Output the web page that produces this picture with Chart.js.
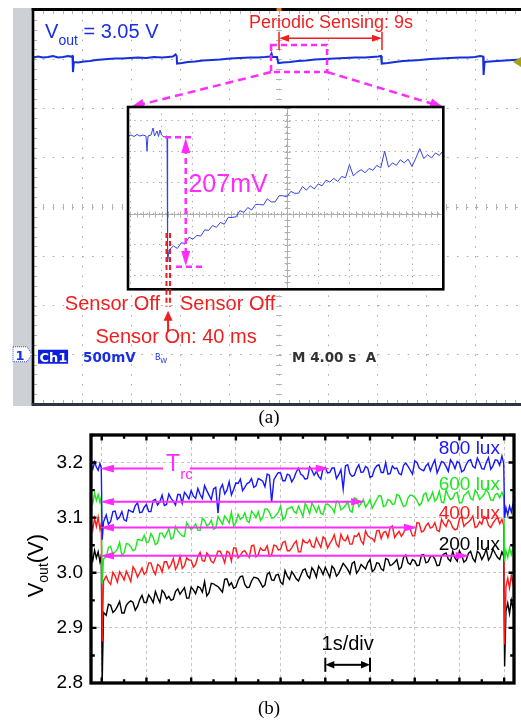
<!DOCTYPE html>
<html>
<head>
<meta charset="utf-8">
<script src="https://cdn.jsdelivr.net/npm/chart.js@4.4.0/dist/chart.umd.min.js"></script>
<style>
  body { margin: 0; background: #fff; width: 521px; height: 721px; overflow: hidden; position: relative; }
  canvas { position: absolute; }
  #scope { left: 0; top: 0; }
  #inset { left: 125px; top: 104px; }
  #panelB { left: 0; top: 405px; }
</style>
</head>
<body>
<canvas id="scope" width="521" height="410"></canvas>
<canvas id="inset" width="322" height="189"></canvas>
<canvas id="panelB" width="521" height="316"></canvas>
<script>
// ---- (a) scope trace: time in s (4 s/div), Vout in V (500 mV/div)
const scopeT = [0, 0.41, 0.81, 1.22, 1.63, 2.03, 2.44, 2.85, 3.09, 3.21, 3.25, 3.32, 3.66, 4.15, 4.63, 5.12, 5.61, 6.10, 6.67, 7.24,
  7.89, 8.54, 9.19, 9.84, 10.49, 10.98, 11.38, 11.59, 11.68, 11.71, 12.11, 12.60, 13.17, 13.82, 14.55, 15.20, 16.02, 16.83, 17.64, 18.29,
  18.86, 19.27, 19.39, 19.47, 19.84, 19.94, 20.33, 20.89, 21.54, 22.19, 22.93, 23.74, 24.55, 25.37, 26.18, 26.99, 27.56, 28.05, 28.29, 28.35,
  28.86, 29.43, 30.08, 30.81, 31.46, 32.28, 33.09, 33.90, 34.72, 35.37, 35.93, 36.34, 36.59, 36.63, 36.71, 37.15, 37.72, 38.37, 39.02, 39.67];
const scopeV = [3.017, 3.027, 3.017, 3.022, 3.033, 3.017, 3.022, 3.033, 3.027, 3.033, 2.870, 2.972, 2.967, 2.977, 2.982, 2.992, 2.997, 3.002, 3.007, 3.007,
  3.012, 3.017, 3.012, 3.022, 3.017, 3.022, 3.027, 3.048, 3.033, 2.956, 2.961, 2.972, 2.977, 2.987, 2.992, 2.997, 3.007, 3.012, 3.017, 3.017,
  3.022, 3.027, 3.058, 3.022, 3.022, 2.961, 2.967, 2.972, 2.982, 2.987, 2.997, 3.002, 3.007, 3.012, 3.017, 3.017, 3.022, 3.027, 3.033, 2.956,
  2.961, 2.972, 2.982, 2.987, 2.992, 3.002, 3.007, 3.012, 3.017, 3.017, 3.022, 3.033, 3.027, 2.840, 2.972, 2.977, 2.982, 2.987, 2.992, 2.997];
const scopeXGrid = [0, 4, 8, 12, 16, 20, 24, 28, 32, 36];
const scopeYGrid = [-0.5, 0, 0.5, 1.0, 1.5, 2.0, 2.5, 3.0, 3.5];

// ---- (a) inset: time in s (400 ms/div), Vout in V (50 mV/div)
const insetT = [-0.024, 0.008, 0.046, 0.084, 0.123, 0.161, 0.199, 0.212, 0.225, 0.263, 0.289, 0.308, 0.340, 0.359, 0.378, 0.397, 0.429, 0.468, 0.475, 0.493,
  0.55, 0.60, 0.65, 0.70, 0.75, 0.80, 0.85, 0.90, 0.95, 1.00, 1.05, 1.10, 1.15, 1.20, 1.25, 1.30, 1.35, 1.40, 1.45, 1.50,
  1.55, 1.60, 1.65, 1.70, 1.75, 1.80, 1.85, 1.90, 1.95, 2.00, 2.05, 2.10, 2.15, 2.20, 2.25, 2.30, 2.35, 2.40, 2.45, 2.50,
  2.55, 2.60, 2.65, 2.70, 2.75, 2.80, 2.85, 2.90, 2.95, 3.00, 3.05, 3.10, 3.15, 3.20, 3.25, 3.30, 3.35, 3.40, 3.45, 3.50,
  3.55, 3.60, 3.65, 3.70, 3.75, 3.80, 3.85, 3.90, 3.95, 4.00];
const insetV = [3.0753, 3.0769, 3.0745, 3.0777, 3.0753, 3.0769, 3.0753, 3.0511, 3.0753, 3.0769, 3.0882, 3.0753, 3.0834, 3.0745, 3.0850, 3.0769, 3.0737, 3.0753, 2.8721, 2.8915,
  2.898, 2.894, 2.903, 2.902, 2.912, 2.909, 2.915, 2.914, 2.924, 2.923, 2.931, 2.928, 2.936, 2.933, 2.944, 2.944, 2.945, 2.955, 2.952, 2.960,
  2.956, 2.965, 2.965, 2.964, 2.974, 2.969, 2.969, 2.979, 2.979, 2.977, 2.986, 2.983, 2.983, 2.994, 2.988, 2.995, 2.990, 2.998, 2.995, 3.004,
  3.001, 3.007, 3.002, 3.010, 3.008, 3.029, 3.011, 3.017, 3.021, 3.016, 3.023, 3.020, 3.028, 3.024, 3.051, 3.025, 3.032, 3.028, 3.037, 3.032,
  3.038, 3.026, 3.040, 3.055, 3.039, 3.045, 3.040, 3.048, 3.044, 3.052];
const insetXGrid = [0, 0.4, 0.8, 1.2, 1.6, 2.0, 2.4, 2.8, 3.2, 3.6];
const insetYGrid = [2.85, 2.9, 2.95, 3.0, 3.05, 3.1];

// ---- (b) Vout recovery at four light levels (time in s, Vout in V)
const timeS = [-0.24, -0.2, -0.16, -0.12, -0.08, -0.04, -0.01, 0.01, 0.04,
  0.1, 0.15, 0.2, 0.25, 0.3, 0.35, 0.4, 0.45, 0.5, 0.55,
  0.6, 0.65, 0.7, 0.75, 0.8, 0.85, 0.9, 0.95, 1.0, 1.05,
  1.1, 1.15, 1.2, 1.25, 1.3, 1.35, 1.4, 1.45, 1.5, 1.55,
  1.6, 1.65, 1.7, 1.75, 1.8, 1.85, 1.9, 1.95, 2.0, 2.05,
  2.1, 2.15, 2.2, 2.25, 2.3, 2.35, 2.4, 2.45, 2.5, 2.55,
  2.6, 2.65, 2.7, 2.75, 2.8, 2.85, 2.9, 2.95, 3.0, 3.05,
  3.1, 3.15, 3.2, 3.25, 3.3, 3.35, 3.4, 3.45, 3.5, 3.55,
  3.6, 3.65, 3.7, 3.75, 3.8, 3.85, 3.9, 3.95, 4.0, 4.05,
  4.1, 4.15, 4.2, 4.25, 4.3, 4.35, 4.4, 4.45, 4.5, 4.55,
  4.6, 4.65, 4.7, 4.75, 4.8, 4.85, 4.9, 4.95, 5.0, 5.05,
  5.1, 5.15, 5.2, 5.25, 5.3, 5.35, 5.4, 5.45, 5.5, 5.55,
  5.6, 5.65, 5.7, 5.75, 5.8, 5.85, 5.9, 5.95, 6.0, 6.05,
  6.1, 6.15, 6.2, 6.25, 6.3, 6.35, 6.4, 6.45, 6.5, 6.55,
  6.6, 6.65, 6.7, 6.75, 6.8, 6.85, 6.9, 6.95, 7.0, 7.05,
  7.1, 7.15, 7.2, 7.25, 7.3, 7.35, 7.4, 7.45, 7.5, 7.55,
  7.6, 7.65, 7.7, 7.75, 7.8, 7.85, 7.9, 7.95, 8.0, 8.05,
  8.1, 8.15, 8.2, 8.25, 8.3, 8.35, 8.4, 8.45, 8.5, 8.55,
  8.6, 8.65, 8.7, 8.75, 8.8, 8.85, 8.9,
  8.95, 8.99, 9.01, 9.04, 9.08, 9.12, 9.16, 9.2, 9.22];
const lux800 = [3.196, 3.188, 3.201, 3.192, 3.186, 3.198, 3.190, 3.06, 3.092,
  3.105, 3.088, 3.093, 3.111, 3.112, 3.097, 3.101, 3.111, 3.096, 3.094,
  3.114, 3.112, 3.110, 3.122, 3.127, 3.109, 3.110, 3.119, 3.124, 3.111,
  3.111, 3.131, 3.133, 3.123, 3.129, 3.141, 3.122, 3.124, 3.143, 3.135,
  3.130, 3.123, 3.142, 3.142, 3.126, 3.146, 3.141, 3.134, 3.149, 3.139,
  3.135, 3.153, 3.142, 3.135, 3.158, 3.149, 3.141, 3.133, 3.152, 3.155,
  3.108, 3.152, 3.160, 3.143, 3.150, 3.165, 3.141, 3.151, 3.163, 3.162,
  3.170, 3.149, 3.155, 3.162, 3.164, 3.171, 3.155, 3.158, 3.171, 3.169,
  3.166, 3.156, 3.179, 3.177, 3.128, 3.169, 3.176, 3.182, 3.181, 3.167,
  3.167, 3.179, 3.177, 3.165, 3.172, 3.183, 3.190, 3.179, 3.176, 3.170,
  3.171, 3.192, 3.186, 3.177, 3.184, 3.175, 3.170, 3.190, 3.191, 3.181,
  3.182, 3.190, 3.190, 3.171, 3.178, 3.187, 3.152, 3.194, 3.196, 3.180,
  3.175, 3.177, 3.189, 3.196, 3.182, 3.183, 3.193, 3.190, 3.173, 3.175,
  3.188, 3.194, 3.196, 3.182, 3.182, 3.200, 3.179, 3.180, 3.194, 3.189,
  3.190, 3.180, 3.178, 3.195, 3.199, 3.193, 3.186, 3.179, 3.203, 3.200,
  3.190, 3.187, 3.185, 3.194, 3.198, 3.185, 3.196, 3.205, 3.181, 3.191,
  3.202, 3.200, 3.193, 3.184, 3.205, 3.199, 3.189, 3.202, 3.199, 3.183,
  3.186, 3.196, 3.203, 3.205, 3.193, 3.190, 3.208, 3.200, 3.189, 3.188,
  3.200, 3.209, 3.188, 3.194, 3.205, 3.204, 3.195,
  3.212, 3.198, 3.10, 3.118, 3.105, 3.121, 3.110, 3.126, 3.115];
const lux600 = [3.138, 3.126, 3.145, 3.131, 3.142, 3.128, 3.137, 2.98, 3.025,
  3.029, 3.046, 3.048, 3.033, 3.038, 3.043, 3.055, 3.031, 3.036, 3.053,
  3.052, 3.047, 3.040, 3.042, 3.060, 3.060, 3.058, 3.068, 3.055, 3.056,
  3.071, 3.064, 3.051, 3.054, 3.072, 3.072, 3.064, 3.071, 3.080, 3.061,
  3.064, 3.084, 3.076, 3.071, 3.067, 3.066, 3.091, 3.084, 3.078, 3.083,
  3.089, 3.077, 3.077, 3.099, 3.095, 3.085, 3.088, 3.095, 3.079, 3.081,
  3.102, 3.095, 3.088, 3.103, 3.098, 3.090, 3.110, 3.085, 3.091, 3.106,
  3.097, 3.100, 3.109, 3.094, 3.091, 3.112, 3.107, 3.100, 3.111, 3.095,
  3.100, 3.116, 3.116, 3.110, 3.099, 3.100, 3.105, 3.110, 3.121, 3.096,
  3.100, 3.116, 3.117, 3.120, 3.111, 3.108, 3.121, 3.112, 3.102, 3.126,
  3.118, 3.107, 3.127, 3.119, 3.110, 3.121, 3.108, 3.106, 3.123, 3.125,
  3.121, 3.117, 3.109, 3.130, 3.129, 3.114, 3.117, 3.122, 3.129, 3.113,
  3.110, 3.136, 3.134, 3.120, 3.126, 3.133, 3.119, 3.125, 3.133, 3.117,
  3.125, 3.133, 3.140, 3.139, 3.120, 3.122, 3.133, 3.131, 3.124, 3.125,
  3.142, 3.140, 3.130, 3.120, 3.122, 3.136, 3.141, 3.140, 3.137, 3.131,
  3.122, 3.126, 3.142, 3.145, 3.130, 3.136, 3.146, 3.130, 3.135, 3.148,
  3.128, 3.127, 3.150, 3.140, 3.133, 3.135, 3.144, 3.146, 3.127, 3.127,
  3.140, 3.144, 3.148, 3.135, 3.132, 3.150, 3.145, 3.133, 3.137, 3.142,
  3.151, 3.145, 3.132, 3.131, 3.142, 3.144, 3.136,
  3.146, 3.138, 3.02, 3.040, 3.028, 3.045, 3.033, 3.048, 3.037];
const lux400 = [3.092, 3.078, 3.099, 3.084, 3.101, 3.079, 3.090, 2.875, 2.985,
  2.994, 2.984, 2.979, 3.001, 2.994, 2.983, 3.002, 2.995, 2.987, 3.003,
  2.994, 2.984, 3.011, 3.004, 2.992, 3.000, 3.009, 2.997, 3.002, 3.018,
  3.018, 3.005, 2.997, 3.015, 3.012, 3.001, 3.020, 3.020, 3.008, 3.015,
  3.026, 3.006, 3.014, 3.030, 3.008, 3.013, 3.027, 3.023, 3.023, 3.010,
  3.015, 3.030, 3.037, 3.022, 3.021, 3.036, 3.031, 3.021, 3.018, 3.028,
  3.039, 3.039, 3.030, 3.018, 3.039, 3.037, 3.021, 3.045, 3.045, 3.027,
  3.032, 3.038, 3.040, 3.033, 3.028, 3.049, 3.050, 3.029, 3.033, 3.045,
  3.041, 3.041, 3.049, 3.030, 3.033, 3.050, 3.049, 3.041, 3.043, 3.055,
  3.057, 3.040, 3.040, 3.045, 3.053, 3.058, 3.038, 3.038, 3.060, 3.055,
  3.054, 3.060, 3.048, 3.046, 3.063, 3.054, 3.046, 3.065, 3.061, 3.045,
  3.053, 3.059, 3.069, 3.052, 3.047, 3.070, 3.060, 3.058, 3.067, 3.052,
  3.052, 3.067, 3.066, 3.072, 3.058, 3.052, 3.076, 3.067, 3.064, 3.062,
  3.057, 3.076, 3.077, 3.062, 3.073, 3.075, 3.064, 3.082, 3.085, 3.064,
  3.070, 3.075, 3.066, 3.072, 3.082, 3.084, 3.079, 3.067, 3.067, 3.091,
  3.090, 3.074, 3.076, 3.085, 3.090, 3.081, 3.083, 3.091, 3.077, 3.075,
  3.097, 3.089, 3.084, 3.096, 3.092, 3.082, 3.078, 3.080, 3.098, 3.102,
  3.084, 3.089, 3.092, 3.096, 3.103, 3.082, 3.084, 3.093, 3.088, 3.102,
  3.100, 3.086, 3.082, 3.090, 3.096, 3.101, 3.089,
  3.097, 3.086, 2.87, 2.975, 2.990, 2.972, 2.995, 2.980, 3.000];
const lux200 = [3.035, 3.022, 3.041, 3.027, 3.038, 3.020, 3.032, 2.80, 2.928,
  2.923, 2.943, 2.941, 2.928, 2.932, 2.939, 2.948, 2.927, 2.927, 2.941,
  2.946, 2.949, 2.946, 2.932, 2.939, 2.951, 2.959, 2.946, 2.946, 2.960,
  2.954, 2.946, 2.966, 2.955, 2.946, 2.968, 2.963, 2.953, 2.957, 2.950,
  2.952, 2.966, 2.971, 2.961, 2.967, 2.973, 2.954, 2.954, 2.974, 2.969,
  2.962, 2.975, 2.973, 2.965, 2.984, 2.958, 2.964, 2.981, 2.980, 2.977,
  2.975, 2.970, 2.965, 2.988, 2.989, 2.977, 2.982, 2.972, 2.974, 2.986,
  2.993, 2.994, 2.979, 2.973, 2.974, 2.985, 2.992, 2.991, 2.989, 2.982,
  2.974, 2.978, 2.997, 3.001, 2.987, 2.986, 2.996, 2.997, 2.983, 2.979,
  3.004, 2.994, 2.988, 3.002, 2.996, 2.989, 2.985, 2.995, 3.005, 3.007,
  2.995, 2.990, 3.009, 3.003, 2.992, 3.012, 3.006, 2.997, 3.010, 3.001,
  2.992, 3.012, 3.007, 2.994, 2.999, 3.008, 3.017, 3.012, 3.006, 2.998,
  3.017, 3.020, 2.999, 3.005, 3.015, 3.011, 3.007, 3.018, 3.024, 3.002,
  3.006, 3.018, 3.017, 3.007, 3.004, 3.026, 3.024, 3.013, 3.015, 3.019,
  3.024, 3.006, 3.010, 3.028, 3.032, 3.018, 3.015, 3.024, 3.022, 3.013,
  3.014, 3.032, 3.033, 3.018, 3.020, 3.029, 3.031, 3.025, 3.013, 3.014,
  3.030, 3.034, 3.036, 3.025, 3.021, 3.039, 3.027, 3.021, 3.040, 3.032,
  3.019, 3.023, 3.035, 3.039, 3.026, 3.020, 3.039, 3.035, 3.024, 3.032,
  3.043, 3.023, 3.030, 3.043, 3.035, 3.028, 3.024,
  3.038, 3.030, 2.83, 2.930, 2.945, 2.926, 2.950, 2.935, 2.955];
const luxLabels = ['800 lux', '600 lux', '400 lux', '200 lux'];
const luxColors = ['#1616ff', '#1ee61e', '#ff1a1a', '#000000'];
const luxLabelV = [3.215, 3.151, 3.098, 3.042];
const trcArrowV = [3.189, 3.129, 3.082, 3.031];
const trcArrowEnd = [5.10, 5.89, 7.07, 8.23];
const yTicksB = [2.8, 2.9, 3.0, 3.1, 3.2];
const xMajorB = [0, 1, 2, 3, 4, 5, 6, 7, 8, 9];

Chart.defaults.font.family = '"Liberation Sans", Arial, sans-serif';
const SANS = '"Liberation Sans", Arial, sans-serif';
const SCOPEFONT = '"DejaVu Sans", sans-serif';
const blue = '#1a2ee6', red = '#f01e1e', mag = '#ff2bff';

// ---------- drawing helpers
function P(chart, t, v) {
  return [chart.scales.x.getPixelForValue(t), chart.scales.y.getPixelForValue(v)];
}
function seg(ctx, a, b, color, w, dash) {
  ctx.save();
  ctx.strokeStyle = color; ctx.lineWidth = w; ctx.setLineDash(dash || []);
  ctx.beginPath(); ctx.moveTo(a[0], a[1]); ctx.lineTo(b[0], b[1]); ctx.stroke();
  ctx.restore();
}
function head(ctx, tip, from, len, hw, color) {
  const ang = Math.atan2(tip[1] - from[1], tip[0] - from[0]);
  const c = Math.cos(ang), s = Math.sin(ang);
  ctx.save(); ctx.fillStyle = color; ctx.beginPath();
  ctx.moveTo(tip[0], tip[1]);
  ctx.lineTo(tip[0] - len * c + hw * s, tip[1] - len * s - hw * c);
  ctx.lineTo(tip[0] - len * c - hw * s, tip[1] - len * s + hw * c);
  ctx.closePath(); ctx.fill(); ctx.restore();
}
function arrow(ctx, a, b, color, w, len, hw, both, dash) {
  const d = Math.hypot(b[0] - a[0], b[1] - a[1]);
  const ux = (b[0] - a[0]) / d, uy = (b[1] - a[1]) / d;
  const s = both ? [a[0] + ux * len * 0.8, a[1] + uy * len * 0.8] : a;
  const e = [b[0] - ux * len * 0.8, b[1] - uy * len * 0.8];
  seg(ctx, s, e, color, w, dash);
  head(ctx, b, a, len, hw, color);
  if (both) head(ctx, a, b, len, hw, color);
}
function txt(ctx, s, p, font, color, align) {
  ctx.save(); ctx.font = font; ctx.fillStyle = color; ctx.textAlign = align || 'left';
  ctx.fillText(s, p[0], p[1]); ctx.restore();
}
function subTxt(ctx, p, main, sub, rest, size, subSize, drop, color, family) {
  ctx.save(); ctx.fillStyle = color; ctx.textAlign = 'left';
  ctx.font = size + 'px ' + family; ctx.fillText(main, p[0], p[1]);
  let x = p[0] + ctx.measureText(main).width;
  ctx.font = subSize + 'px ' + family; ctx.fillText(sub, x, p[1] + drop);
  x += ctx.measureText(sub).width;
  ctx.font = size + 'px ' + family; ctx.fillText(rest, x, p[1]);
  ctx.restore();
}
function hiddenAxis(min, max, grid, color, dash, horizontal) {
  return {
    type: 'linear', min: min, max: max,
    afterFit: s => { if (horizontal) s.height = 0; else s.width = 0; },
    afterBuildTicks: s => { s.ticks = grid.map(v => ({ value: v })); },
    ticks: { display: false },
    grid: { color: color, drawTicks: false, lineWidth: 1 },
    border: { display: false, dash: dash }
  };
}

// ---------- (a) oscilloscope screen
const scopeDeco = {
  id: 'scopeDeco',
  beforeDraw(chart) {
    const { ctx, chartArea: a } = chart;
    ctx.save();
    ctx.fillStyle = '#cdd1d5';
    ctx.fillRect(a.left - 20, a.top - 2, 19, a.bottom - a.top + 4);
    ctx.restore();
  },
  beforeDatasetsDraw(chart) {
    const { ctx, chartArea: a, scales: { x, y } } = chart;
    const cx = x.getPixelForValue(20), cy = y.getPixelForValue(1.5);
    ctx.save(); ctx.strokeStyle = '#b4b4b4'; ctx.lineWidth = 1; ctx.beginPath();
    for (let v = -0.5; v <= 3.51; v += 0.1) {
      const py = Math.round(y.getPixelForValue(v)) + 0.5;
      ctx.moveTo(cx - 3, py); ctx.lineTo(cx + 3, py);
      ctx.moveTo(a.left, py); ctx.lineTo(a.left + 4, py);
    }
    for (let t = 0; t <= 40; t += 0.8) {
      const p = Math.round(x.getPixelForValue(t)) + 0.5;
      ctx.moveTo(p, cy - 3); ctx.lineTo(p, cy + 3);
      ctx.moveTo(p, a.top); ctx.lineTo(p, a.top + 4);
      ctx.moveTo(p, a.bottom); ctx.lineTo(p, a.bottom - 4);
    }
    ctx.stroke(); ctx.restore();
  },
  afterDatasetsDraw(chart) {
    const { ctx, chartArea: a } = chart;
    const Q = (t, v) => P(chart, t, v);
    // screen frame
    ctx.save();
    ctx.fillStyle = '#000';
    ctx.fillRect(a.left - 1.3, a.top - 2, 2.6, a.bottom - a.top + 3);
    ctx.fillRect(a.left - 1.3, a.top - 2, a.right - a.left + 2, 3);
    ctx.fillStyle = '#2b3642';
    ctx.fillRect(a.left - 1.3, a.bottom - 1, a.right - a.left + 2, 3);
    ctx.restore();

    subTxt(ctx, Q(0.98, 3.212), 'V', 'out', ' = 3.05 V', 20, 14, 7, blue, SANS);

    txt(ctx, 'Periodic Sensing: 9s', Q(24.23, 3.316), '18px ' + SANS, red, 'center');
    arrow(ctx, Q(20.0, 3.212), Q(28.37, 3.212), red, 1.5, 10, 3.5, true);
    seg(ctx, Q(20.0, 3.279), Q(20.0, 3.093), red, 1.5);
    seg(ctx, Q(28.37, 3.279), Q(28.37, 3.093), red, 1.5);

    // zoom box and leader lines to the inset
    const b0 = Q(19.35, 3.144), b1 = Q(23.9, 2.870);
    ctx.save(); ctx.strokeStyle = mag; ctx.lineWidth = 2.5; ctx.setLineDash([6, 4]);
    ctx.strokeRect(b0[0], b0[1], b1[0] - b0[0], b1[1] - b0[1]); ctx.restore();
    arrow(ctx, Q(19.35, 2.870), Q(7.97, 2.515), mag, 2.5, 13, 5, false, [8, 5]);
    arrow(ctx, Q(23.9, 2.870), Q(33.33, 2.515), mag, 2.5, 13, 5, false, [8, 5]);

    // sensor window markers
    seg(ctx, Q(10.85, 0.659), Q(10.85, 0.487), red, 2, [5, 3]);
    seg(ctx, Q(11.13, 0.659), Q(11.13, 0.487), red, 2, [5, 3]);
    txt(ctx, 'Sensor Off', Q(10.33, 0.456), '20px ' + SANS, red, 'right');
    txt(ctx, 'Sensor Off', Q(11.95, 0.456), '20px ' + SANS, red, 'left');
    arrow(ctx, Q(10.98, 0.233), Q(10.98, 0.446), red, 2, 10, 4.5, false);
    txt(ctx, 'Sensor On: 40 ms', Q(11.63, 0.117), '20px ' + SANS, red, 'center');

    // status line
    const c0 = Q(0.41, 0.051), c1 = Q(2.85, -0.091);
    ctx.save(); ctx.fillStyle = '#0a1ee0';
    ctx.fillRect(c0[0], c0[1], c1[0] - c0[0], c1[1] - c0[1]); ctx.restore();
    txt(ctx, 'Ch1', Q(0.53, -0.076), 'bold 13px ' + SCOPEFONT, '#fff');
    txt(ctx, '500mV', Q(4.07, -0.076), 'bold 13.5px ' + SCOPEFONT, blue);
    txt(ctx, 'B', Q(9.92, -0.05), '8px ' + SCOPEFONT, blue);
    txt(ctx, 'W', Q(10.35, -0.085), '7px ' + SCOPEFONT, blue);
    txt(ctx, 'M 4.00 s  A', Q(21.06, -0.076), 'bold 13.5px ' + SCOPEFONT, '#333');

    // channel-1 ground marker on the left edge
    const g0 = Q(0, 0.081), g1 = Q(0, -0.071);
    ctx.save();
    ctx.fillStyle = '#fff'; ctx.strokeStyle = '#3050e0'; ctx.lineWidth = 1; ctx.setLineDash([1, 1]);
    ctx.beginPath();
    ctx.moveTo(a.left - 20, g0[1]); ctx.lineTo(a.left - 6, g0[1]); ctx.lineTo(a.left - 1, (g0[1] + g1[1]) / 2);
    ctx.lineTo(a.left - 6, g1[1]); ctx.lineTo(a.left - 20, g1[1]); ctx.closePath();
    ctx.fill(); ctx.stroke(); ctx.restore();
    txt(ctx, '1', [a.left - 13, g1[1] - 2], 'bold 13px ' + SCOPEFONT, '#1a2ee6', 'center');

    // trigger level marker on the right edge
    const m0 = Q(39.02, 2.972), m1 = Q(39.67, 3.022), m2 = Q(39.67, 2.922);
    ctx.save(); ctx.fillStyle = '#aaa018'; ctx.beginPath();
    ctx.moveTo(m0[0], m0[1]); ctx.lineTo(m1[0], m1[1]); ctx.lineTo(m2[0], m2[1]); ctx.closePath(); ctx.fill();
    // trigger position marker on top
    const tp = Q(20, 3.5);
    ctx.fillStyle = '#e07a2a'; ctx.fillRect(tp[0] - 2.5, tp[1] - 2, 5, 3);
    ctx.restore();
  }
};

new Chart(document.getElementById('scope'), {
  type: 'line',
  data: {
    datasets: [{
      data: scopeT.map((t, i) => ({ x: t, y: scopeV[i] })),
      borderColor: '#1530d8', borderWidth: 2, pointRadius: 0, tension: 0
    }]
  },
  options: {
    responsive: false, animation: false, events: [],
    layout: { padding: { left: 33, top: 10, right: 0, bottom: 6 } },
    plugins: { legend: { display: false }, tooltip: { enabled: false } },
    scales: {
      x: hiddenAxis(0, 39.67, scopeXGrid, '#a6a6a6', [1.5, 8.34], true),
      y: hiddenAxis(-0.5, 3.5, scopeYGrid, '#a6a6a6', [1.5, 8.36], false)
    }
  },
  plugins: [scopeDeco]
});

// ---------- (a) zoomed inset
const insetDeco = {
  id: 'insetDeco',
  beforeDraw(chart) {
    const { ctx, chartArea: a } = chart;
    ctx.save(); ctx.fillStyle = '#fff';
    ctx.fillRect(a.left, a.top, a.right - a.left, a.bottom - a.top); ctx.restore();
  },
  beforeDatasetsDraw(chart) {
    const { ctx, chartArea: a, scales: { x, y } } = chart;
    const cx = Math.round(x.getPixelForValue(2.0)) + 0.5, cy = Math.round(y.getPixelForValue(2.95)) + 0.5;
    ctx.save(); ctx.strokeStyle = '#b0b0b0'; ctx.lineWidth = 1; ctx.beginPath();
    for (let v = 2.83; v <= 3.125; v += 0.01) {
      const py = Math.round(y.getPixelForValue(v)) + 0.5;
      ctx.moveTo(cx - 3, py); ctx.lineTo(cx + 3, py);
    }
    for (let t = 0; t <= 4.0; t += 0.08) {
      const p = Math.round(x.getPixelForValue(t)) + 0.5;
      ctx.moveTo(p, cy - 3); ctx.lineTo(p, cy + 3);
    }
    ctx.moveTo(cx, a.top); ctx.lineTo(cx, a.bottom);
    ctx.moveTo(a.left, cy); ctx.lineTo(a.right, cy);
    ctx.stroke(); ctx.restore();
  },
  afterDatasetsDraw(chart) {
    const { ctx, chartArea: a } = chart;
    const Q = (t, v) => P(chart, t, v);
    ctx.save(); ctx.strokeStyle = '#000'; ctx.lineWidth = 2.6;
    ctx.strokeRect(a.left, a.top, a.right - a.left, a.bottom - a.top); ctx.restore();

    // 207 mV drop marker
    seg(ctx, Q(0.442, 3.0732), Q(0.813, 3.0732), mag, 2.5, [6, 4]);
    seg(ctx, Q(0.583, 2.8645), Q(0.941, 2.8645), mag, 2.5, [6, 4]);
    arrow(ctx, Q(0.707, 2.8656), Q(0.707, 3.0721), mag, 2.5, 15, 4.5, true, [6, 4]);
    txt(ctx, '207mV', Q(0.742, 2.9858), '25px ' + SANS, mag, 'left');

    // sensor-on window (continues below the inset)
    seg(ctx, Q(0.461, 2.9189), Q(0.461, 2.826), red, 2, [5, 3]);
    seg(ctx, Q(0.506, 2.9189), Q(0.506, 2.826), red, 2, [5, 3]);
  }
};

new Chart(document.getElementById('inset'), {
  type: 'line',
  data: {
    datasets: [{
      data: insetT.map((t, i) => ({ x: t, y: insetV[i] })),
      borderColor: '#3444e0', borderWidth: 1, pointRadius: 0, tension: 0
    }]
  },
  options: {
    responsive: false, animation: false, events: [],
    layout: { padding: { left: 3, top: 3, right: 3.7, bottom: 3.7 } },
    plugins: { legend: { display: false }, tooltip: { enabled: false } },
    scales: {
      x: hiddenAxis(-0.031, 4.0, insetXGrid, '#a6a6a6', [1.3, 4.96], true),
      y: hiddenAxis(2.8281, 3.1221, insetYGrid, '#a6a6a6', [1.3, 4.9], false)
    }
  },
  plugins: [insetDeco]
});

// ---------- (b) Vout vs time for the four light levels
const panelBDeco = {
  id: 'panelBDeco',
  afterDatasetsDraw(chart) {
    const { ctx, chartArea: a, scales: { x, y } } = chart;
    const Q = (t, v) => P(chart, t, v);
    // frame
    ctx.save(); ctx.strokeStyle = '#000'; ctx.lineWidth = 3.3;
    ctx.strokeRect(a.left, a.top, a.right - a.left, a.bottom - a.top);
    // inward ticks
    ctx.lineWidth = 2.4; ctx.beginPath();
    for (let t = 0; t <= 9.01; t += 0.5) {
      const p = x.getPixelForValue(t), L = Math.abs(t - Math.round(t)) < 0.01 ? 5.5 : 3.8;
      ctx.moveTo(p, a.bottom); ctx.lineTo(p, a.bottom - L);
      ctx.moveTo(p, a.top); ctx.lineTo(p, a.top + L);
    }
    for (let v = 2.85; v <= 3.251; v += 0.05) {
      const p = y.getPixelForValue(v), L = Math.abs(v * 10 - Math.round(v * 10)) < 0.01 ? 5.5 : 3.8;
      ctx.moveTo(a.left, p); ctx.lineTo(a.left + L, p);
      ctx.moveTo(a.right, p); ctx.lineTo(a.right - L, p);
    }
    ctx.stroke(); ctx.restore();

    // recovery-time arrows
    trcArrowV.forEach((v, i) => {
      if (i === 0) {
        arrow(ctx, Q(1.37, v), Q(-0.04, v), mag, 2, 14, 3.8, false);
        arrow(ctx, Q(1.97, v), Q(trcArrowEnd[i], v), mag, 2, 14, 3.8, false);
      } else {
        arrow(ctx, Q(-0.04, v), Q(trcArrowEnd[i], v), mag, 2, 14, 3.8, true);
      }
    });
    subTxt(ctx, Q(1.44, 3.1847), 'T', 'rc', '', 23, 15, 8.5, mag, SANS);

    luxLabels.forEach((s, i) => txt(ctx, s, Q(8.905, luxLabelV[i]), '19px ' + SANS, luxColors[i], 'right'));

    // time scale marker
    txt(ctx, '1s/div', Q(5.5, 2.859), '20px ' + SANS, '#000', 'center');
    arrow(ctx, Q(5.0, 2.833), Q(6.0, 2.833), '#000', 2, 9, 3.8, true);
    const l = Q(5.0, 2.833), r = Q(6.0, 2.833);
    seg(ctx, [l[0], l[1] - 7], [l[0], l[1] + 7], '#000', 2);
    seg(ctx, [r[0], r[1] - 7], [r[0], r[1] + 7], '#000', 2);
  },
  afterDraw(chart) {
    const { ctx, chartArea: a, scales: { y } } = chart;
    // y-axis title with subscript
    ctx.save();
    ctx.translate(a.left - 48, y.getPixelForValue(3.013));
    ctx.rotate(-Math.PI / 2);
    ctx.font = '22px ' + SANS; const w1 = ctx.measureText('V').width, w3 = ctx.measureText('(V)').width;
    ctx.font = '14px ' + SANS; const w2 = ctx.measureText('out').width;
    const x0 = -(w1 + w2 + w3) / 2;
    ctx.fillStyle = '#000';
    ctx.font = '22px ' + SANS; ctx.fillText('V', x0, 0);
    ctx.font = '14px ' + SANS; ctx.fillText('out', x0 + w1, 5);
    ctx.font = '22px ' + SANS; ctx.fillText('(V)', x0 + w1 + w2, 0);
    ctx.restore();
    // panel captions
    txt(ctx, '(a)', [269, a.top - 12], '19px "Liberation Serif", serif', '#000', 'center');
    txt(ctx, '(b)', [269, a.bottom + 31], '19px "Liberation Serif", serif', '#000', 'center');
  }
};

const series = [lux800, lux600, lux400, lux200];
new Chart(document.getElementById('panelB'), {
  type: 'line',
  data: {
    datasets: series.map((s, k) => ({
      label: luxLabels[k],
      data: timeS.map((t, i) => ({ x: t, y: s[i] })),
      borderColor: luxColors[k], borderWidth: 1.4, pointRadius: 0, tension: 0
    }))
  },
  options: {
    responsive: false, animation: false, events: [],
    layout: { padding: { left: 0, top: 30, right: 7, bottom: 38 } },
    plugins: { legend: { display: false }, tooltip: { enabled: false } },
    scales: {
      x: hiddenAxis(-0.24, 9.22, xMajorB, '#c4c4c4', [3, 3], true),
      y: {
        type: 'linear', min: 2.8, max: 3.25,
        afterFit: s => { s.width = 91; },
        afterBuildTicks: s => { s.ticks = yTicksB.map(v => ({ value: v })); },
        ticks: { color: '#000', font: { size: 19 }, padding: 8, callback: v => v.toFixed(1) },
        grid: { color: '#c4c4c4', drawTicks: false, lineWidth: 1 },
        border: { display: false, dash: [3, 3] }
      }
    }
  },
  plugins: [panelBDeco]
});
</script>
</body>
</html>
